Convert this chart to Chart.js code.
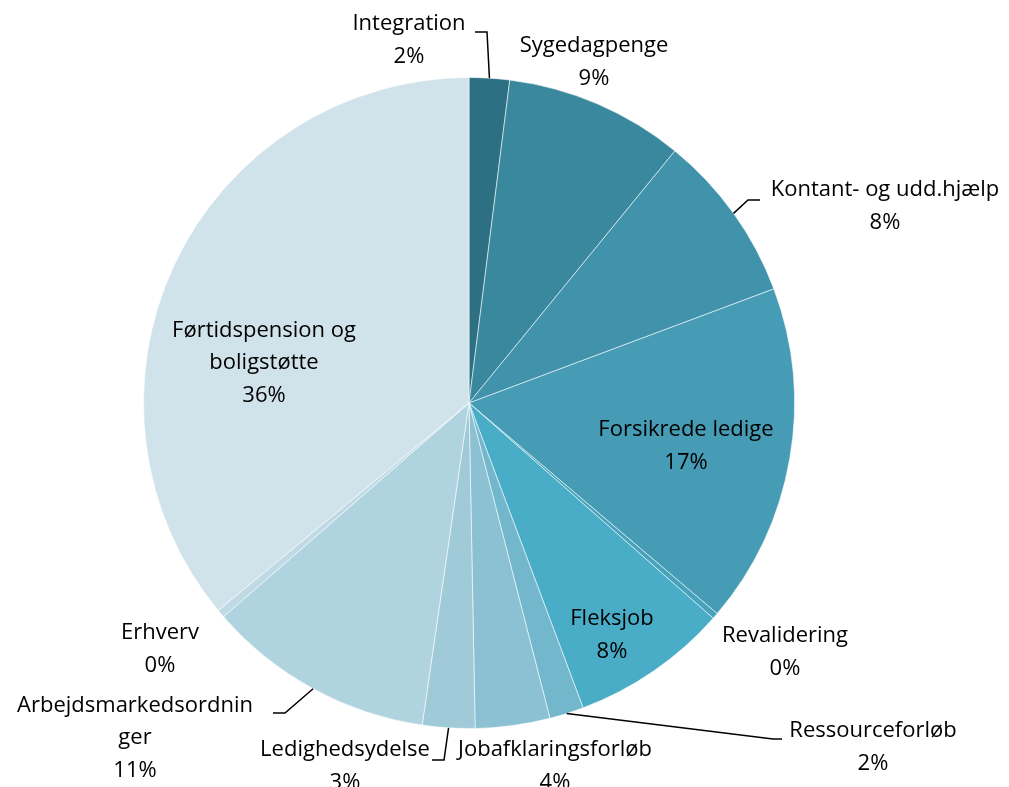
<!DOCTYPE html>
<html>
<head>
<meta charset="utf-8">
<script src="https://cdn.jsdelivr.net/npm/chart.js@4"></script>
<style>
  body { margin: 0; background: #fff; }
  canvas { display: block; }
</style>
</head>
<body>
<canvas id="pie" width="1009" height="787"></canvas>
<script>
const categories = ['Integration', 'Sygedagpenge', 'Kontant- og udd.hjælp', 'Forsikrede ledige',
  'Revalidering', 'Fleksjob', 'Ressourceforløb', 'Jobafklaringsforløb', 'Ledighedsydelse',
  'Arbejdsmarkedsordninger', 'Erhverv', 'Førtidspension og boligstøtte'];
const shares = [2.0, 8.9, 8.4, 16.9, 0.3, 7.8, 1.7, 3.7, 2.6, 11.3, 0.4, 36.0];
const colors = ['#2e7083', '#3a889d', '#4193ab', '#459cb4', '#47a3bb', '#4aadc7',
  '#72b7cc', '#8bc1d3', '#a1cad9', '#b0d3e0', '#bfdae5', '#d1e3ea'];

// how each label is broken into lines
const labelLines = [
  ['Integration'], ['Sygedagpenge'], ['Kontant- og udd.hjælp'], ['Forsikrede ledige'],
  ['Revalidering'], ['Fleksjob'], ['Ressourceforløb'], ['Jobafklaringsforløb'], ['Ledighedsydelse'],
  ['Arbejdsmarkedsordnin', 'ger'], ['Erhverv'], ['Førtidspension og', 'boligstøtte']
];

// label block centres, relative to pie centre (px)
const labelOffsets = [
  [-60, -363], [125, -341], [416, -197], [217, 43], [316, 249], [143, 232],
  [404, 344], [86, 363], [-124, 363], [-334, 335], [-309, 246], [-205, -40]
];

// leader lines: points after the arc edge, relative to pie centre
const leaders = {
  0: [[18, -371], [6, -371]],
  2: [[279, -203], [291, -203]],
  6: [[304, 336], [313, 336]],
  8: [[-25, 357], [-37, 357]],
  9: [[-184, 310], [-196, 310]]
};

const FONT = '22px "Open Sans", sans-serif';
const LINE_H = 32.5;

const labelPlugin = {
  id: 'pieLabels',
  afterDraw(chart) {
    const ctx = chart.ctx;
    const meta = chart.getDatasetMeta(0);
    ctx.save();
    // leader lines
    ctx.strokeStyle = '#000';
    ctx.lineWidth = 1.5;
    Object.keys(leaders).forEach(k => {
      const arc = meta.data[k];
      const mid = (arc.startAngle + arc.endAngle) / 2;
      const cx = arc.x, cy = arc.y;
      ctx.beginPath();
      ctx.moveTo(cx + Math.cos(mid) * arc.outerRadius, cy + Math.sin(mid) * arc.outerRadius);
      leaders[k].forEach(p => ctx.lineTo(cx + p[0], cy + p[1]));
      ctx.stroke();
    });
    // labels
    ctx.font = FONT;
    ctx.fillStyle = '#000';
    ctx.textAlign = 'center';
    ctx.textBaseline = 'middle';
    const total = shares.reduce((a, b) => a + b, 0);
    meta.data.forEach((arc, i) => {
      const lines = labelLines[i].concat([Math.round(shares[i] / total * 100) + '%']);
      const x = arc.x + labelOffsets[i][0];
      const y0 = arc.y + labelOffsets[i][1] - (lines.length - 1) * LINE_H / 2;
      lines.forEach((t, j) => ctx.fillText(t, x, y0 + j * LINE_H));
    });
    ctx.restore();
  }
};

new Chart(document.getElementById('pie'), {
  type: 'pie',
  data: {
    labels: categories,
    datasets: [{
      data: shares,
      backgroundColor: colors,
      borderColor: 'rgba(255,255,255,0.55)',
      borderWidth: 1
    }]
  },
  options: {
    responsive: false,
    animation: false,
    layout: { padding: { left: 143, right: 214, top: 77, bottom: 58 } },
    plugins: {
      legend: { display: false },
      tooltip: { enabled: false }
    }
  },
  plugins: [labelPlugin]
});
</script>
</body>
</html>
